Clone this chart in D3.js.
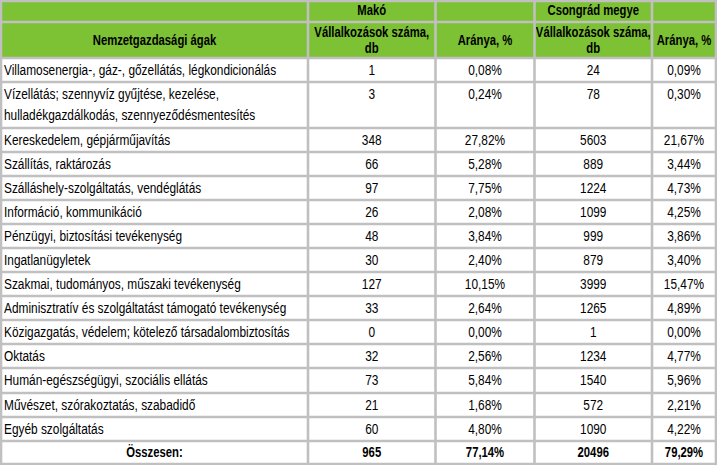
<!DOCTYPE html>
<html>
<head>
<meta charset="utf-8">
<script src="https://cdn.jsdelivr.net/npm/d3@7"></script>
<style>
  body { margin: 0; background: #fff; }
  svg { display: block; }
</style>
</head>
<body>
<div class="chart"></div>
<script>
// table data
var sectors = [
  ["Villamosenergia-, gáz-, gőzellátás, légkondicionálás"],
  ["Vízellátás; szennyvíz gyűjtése, kezelése,", "hulladékgazdálkodás, szennyeződésmentesítés"],
  ["Kereskedelem, gépjárműjavítás"],
  ["Szállítás, raktározás"],
  ["Szálláshely-szolgáltatás, vendéglátás"],
  ["Információ, kommunikáció"],
  ["Pénzügyi, biztosítási tevékenység"],
  ["Ingatlanügyletek"],
  ["Szakmai, tudományos, műszaki tevékenység"],
  ["Adminisztratív és szolgáltatást támogató tevékenység"],
  ["Közigazgatás, védelem; kötelező társadalombiztosítás"],
  ["Oktatás"],
  ["Humán-egészségügyi, szociális ellátás"],
  ["Művészet, szórakoztatás, szabadidő"],
  ["Egyéb szolgáltatás"]
];
var makoCount = [1, 3, 348, 66, 97, 26, 48, 30, 127, 33, 0, 32, 73, 21, 60];
var makoShare = [0.08, 0.24, 27.82, 5.28, 7.75, 2.08, 3.84, 2.40, 10.15, 2.64, 0.00, 2.56, 5.84, 1.68, 4.80];
var megyeCount = [24, 78, 5603, 889, 1224, 1099, 999, 879, 3999, 1265, 1, 1234, 1540, 572, 1090];
var megyeShare = [0.09, 0.30, 21.67, 3.44, 4.73, 4.25, 3.86, 3.40, 15.47, 4.89, 0.00, 4.77, 5.96, 2.21, 4.22];
var totalLabel = "Összesen:";
var totals = [965, 77.14, 20496, 79.29];

var groupHeaders = ["", "Makó", "", "Csongrád megye", ""];
var colHeaders = [["Nemzetgazdasági ágak"], ["Vállalkozások száma,", "db"], ["Aránya, %"], ["Vállalkozások száma,", "db"], ["Aránya, %"]];

// layout
var svgWidth = 717;
var svgHeight = 465;
var colEdges = [1, 308, 435.5, 534.5, 652, 716];
var headerEdges = [1, 22, 58];
var rowHeights = [24, 46, 24, 24, 24, 24, 24, 24, 24, 24, 24, 24, 25, 24, 24];
var totalHeight = 23;
var green = "#7dc134";
var gridColor = "#c0c0c0";
var fontSize = "14.67px";
var family = "'Liberation Sans', Arial, sans-serif";
var squeeze = 0.81;     // imitate Arial Narrow
var squeezeBold = 0.77;

var huLocale = d3.formatLocale({ decimal: ",", thousands: " ", grouping: [3], currency: ["", " Ft"] });
var fmtPct = function(v) { return huLocale.format(".2f")(v) + "%"; };
var fmtInt = d3.format("d");

var svg = d3.select(".chart")
  .append("svg")
  .attr("width", svgWidth)
  .attr("height", svgHeight);

// row boundaries
var rowTops = [headerEdges[2]];
rowHeights.forEach(function(h, i) { rowTops.push(rowTops[i] + h); });
var totalTop = rowTops[rowTops.length - 1];
var tableBottom = totalTop + totalHeight;

function colMid(c) { return (colEdges[c] + colEdges[c + 1]) / 2; }

function addText(g, tx, ty, str, anchor, bold) {
  g.append("text")
    .attr("transform", "translate(" + tx + "," + ty + ") scale(" + (bold ? squeezeBold : squeeze) + ",1)")
    .attr("text-anchor", anchor)
    .style("font-family", family)
    .style("font-size", fontSize)
    .style("font-weight", bold ? "bold" : "normal")
    .attr("fill", "#000")
    .text(str);
}

// fills
svg.append("rect")
  .attr("x", colEdges[0]).attr("y", headerEdges[0])
  .attr("width", colEdges[5] - colEdges[0]).attr("height", headerEdges[2] - headerEdges[0])
  .attr("fill", green);
svg.append("rect")
  .attr("x", colEdges[0]).attr("y", headerEdges[2])
  .attr("width", colEdges[5] - colEdges[0]).attr("height", tableBottom - headerEdges[2])
  .attr("fill", "#fff");

var textLayer = svg.append("g");

// header row 1
groupHeaders.forEach(function(h, c) {
  if (h) addText(textLayer, colMid(c), 15, h, "middle", true);
});

// header row 2
colHeaders.forEach(function(lines, c) {
  if (lines.length === 1) {
    addText(textLayer, colMid(c), 45, lines[0], "middle", true);
  } else {
    addText(textLayer, colMid(c), 36.5, lines[0], "middle", true);
    addText(textLayer, colMid(c), 53, lines[1], "middle", true);
  }
});

// body rows
sectors.forEach(function(lines, i) {
  var top = rowTops[i];
  lines.forEach(function(line, k) {
    addText(textLayer, colEdges[0] + 3, top + 16.5 + k * 21.5, line, "start", false);
  });
  addText(textLayer, colMid(1), top + 16.5, fmtInt(makoCount[i]), "middle", false);
  addText(textLayer, colMid(2), top + 16.5, fmtPct(makoShare[i]), "middle", false);
  addText(textLayer, colMid(3), top + 16.5, fmtInt(megyeCount[i]), "middle", false);
  addText(textLayer, colMid(4), top + 16.5, fmtPct(megyeShare[i]), "middle", false);
});

// total row
addText(textLayer, colMid(0), totalTop + 16, totalLabel, "middle", true);
addText(textLayer, colMid(1), totalTop + 16, fmtInt(totals[0]), "middle", true);
addText(textLayer, colMid(2), totalTop + 16, fmtPct(totals[1]), "middle", true);
addText(textLayer, colMid(3), totalTop + 16, fmtInt(totals[2]), "middle", true);
addText(textLayer, colMid(4), totalTop + 16, fmtPct(totals[3]), "middle", true);

// grid lines
var hLines = headerEdges.concat(rowTops.slice(1)).concat([tableBottom]);
var grid = svg.append("g").attr("stroke", gridColor).attr("stroke-width", 2.6);
grid.selectAll(".h")
  .data(hLines)
  .enter().append("line")
    .attr("class", "h")
    .attr("x1", colEdges[0] - 1.3).attr("x2", colEdges[5] + 1.3)
    .attr("y1", function(d) { return d; }).attr("y2", function(d) { return d; });
grid.selectAll(".v")
  .data(colEdges)
  .enter().append("line")
    .attr("class", "v")
    .attr("y1", headerEdges[0] - 1.3).attr("y2", tableBottom + 1.3)
    .attr("x1", function(d) { return d; }).attr("x2", function(d) { return d; });
</script>
</body>
</html>
